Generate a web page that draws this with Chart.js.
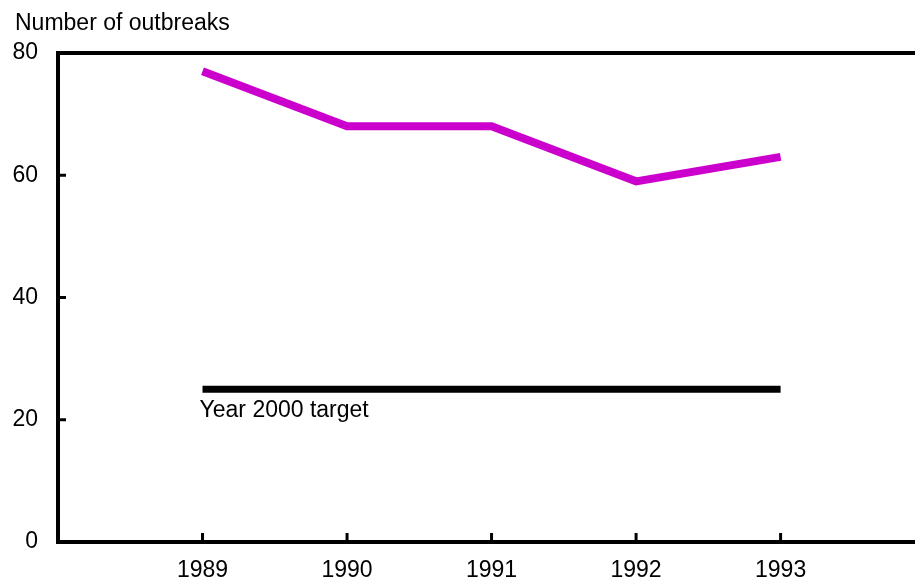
<!DOCTYPE html>
<html>
<head>
<meta charset="utf-8">
<script src="https://cdn.jsdelivr.net/npm/chart.js@4/dist/chart.umd.min.js"></script>
<style>
  html, body { margin: 0; padding: 0; background: #fff; }
  #wrap { width: 915px; height: 577px; }
</style>
</head>
<body>
<div id="wrap"><canvas id="chart"></canvas></div>
<script>
const years = [1989, 1990, 1991, 1992, 1993];
const outbreaks = [77, 68, 68, 59, 63];
const targetValue = 25;
const targetLabel = 'Year 2000 target';
const yTicks = [0, 20, 40, 60, 80];
const yTitle = 'Number of outbreaks';

const FONT = "'Liberation Sans', Arial, sans-serif";
const FSIZE = 23;

// axis ticks pointing inward, the top frame line and the text labels
const extras = {
  id: 'extras',
  afterDatasetsDraw(chart) {
    const ctx = chart.ctx;
    const xs = chart.scales.x, ys = chart.scales.y;
    const a = chart.chartArea;
    ctx.save();
    ctx.strokeStyle = '#000';
    ctx.lineWidth = 4;
    ctx.beginPath();
    ctx.moveTo(a.left - 2, a.top);
    ctx.lineTo(a.right, a.top);
    ctx.stroke();

    ctx.lineWidth = 3;
    years.forEach(v => {
      const px = xs.getPixelForValue(v);
      ctx.beginPath();
      ctx.moveTo(px, a.bottom);
      ctx.lineTo(px, a.bottom - 9);
      ctx.stroke();
    });
    yTicks.forEach(v => {
      const py = ys.getPixelForValue(v);
      ctx.beginPath();
      ctx.moveTo(a.left, py);
      ctx.lineTo(a.left + 8, py);
      ctx.stroke();
    });

    ctx.fillStyle = '#000';
    ctx.font = FSIZE + 'px ' + FONT;
    ctx.textAlign = 'left';
    ctx.textBaseline = 'alphabetic';
    ctx.fillText(yTitle, 15, 30);
    ctx.fillText(targetLabel, xs.getPixelForValue(years[0]) - 3, ys.getPixelForValue(targetValue) + 28);
    ctx.restore();
  }
};

new Chart(document.getElementById('chart'), {
  type: 'line',
  data: {
    datasets: [{
      data: years.map((y, i) => ({ x: y, y: outbreaks[i] })),
      borderColor: '#cc00cc',
      borderWidth: 8,
      borderCapStyle: 'butt',
      borderJoinStyle: 'miter',
      pointRadius: 0,
      tension: 0
    }, {
      data: [{ x: years[0], y: targetValue }, { x: years[years.length - 1], y: targetValue }],
      borderColor: '#000',
      borderWidth: 7,
      borderCapStyle: 'butt',
      pointRadius: 0
    }]
  },
  options: {
    responsive: true,
    maintainAspectRatio: false,
    animation: false,
    layout: { padding: { top: 53, right: 0, bottom: 0, left: 0 } },
    plugins: { legend: { display: false }, tooltip: { enabled: false } },
    scales: {
      x: {
        type: 'linear',
        min: 1988,
        max: 1993.93,
        afterBuildTicks: s => { s.ticks = years.map(v => ({ value: v })); },
        afterFit: s => { s.height = 35; },
        grid: { display: false, drawTicks: false },
        border: { display: true, color: '#000', width: 4 },
        ticks: { color: '#000', font: { family: FONT, size: FSIZE }, padding: 15, maxRotation: 0, callback: v => String(v) }
      },
      y: {
        min: 0,
        max: 80,
        afterBuildTicks: s => { s.ticks = yTicks.map(v => ({ value: v })); },
        afterFit: s => { s.width = 58; },
        grid: { display: false, drawTicks: false },
        border: { display: true, color: '#000', width: 4 },
        ticks: { color: '#000', font: { family: FONT, size: FSIZE }, padding: 20 }
      }
    }
  },
  plugins: [extras]
});
</script>
</body>
</html>
